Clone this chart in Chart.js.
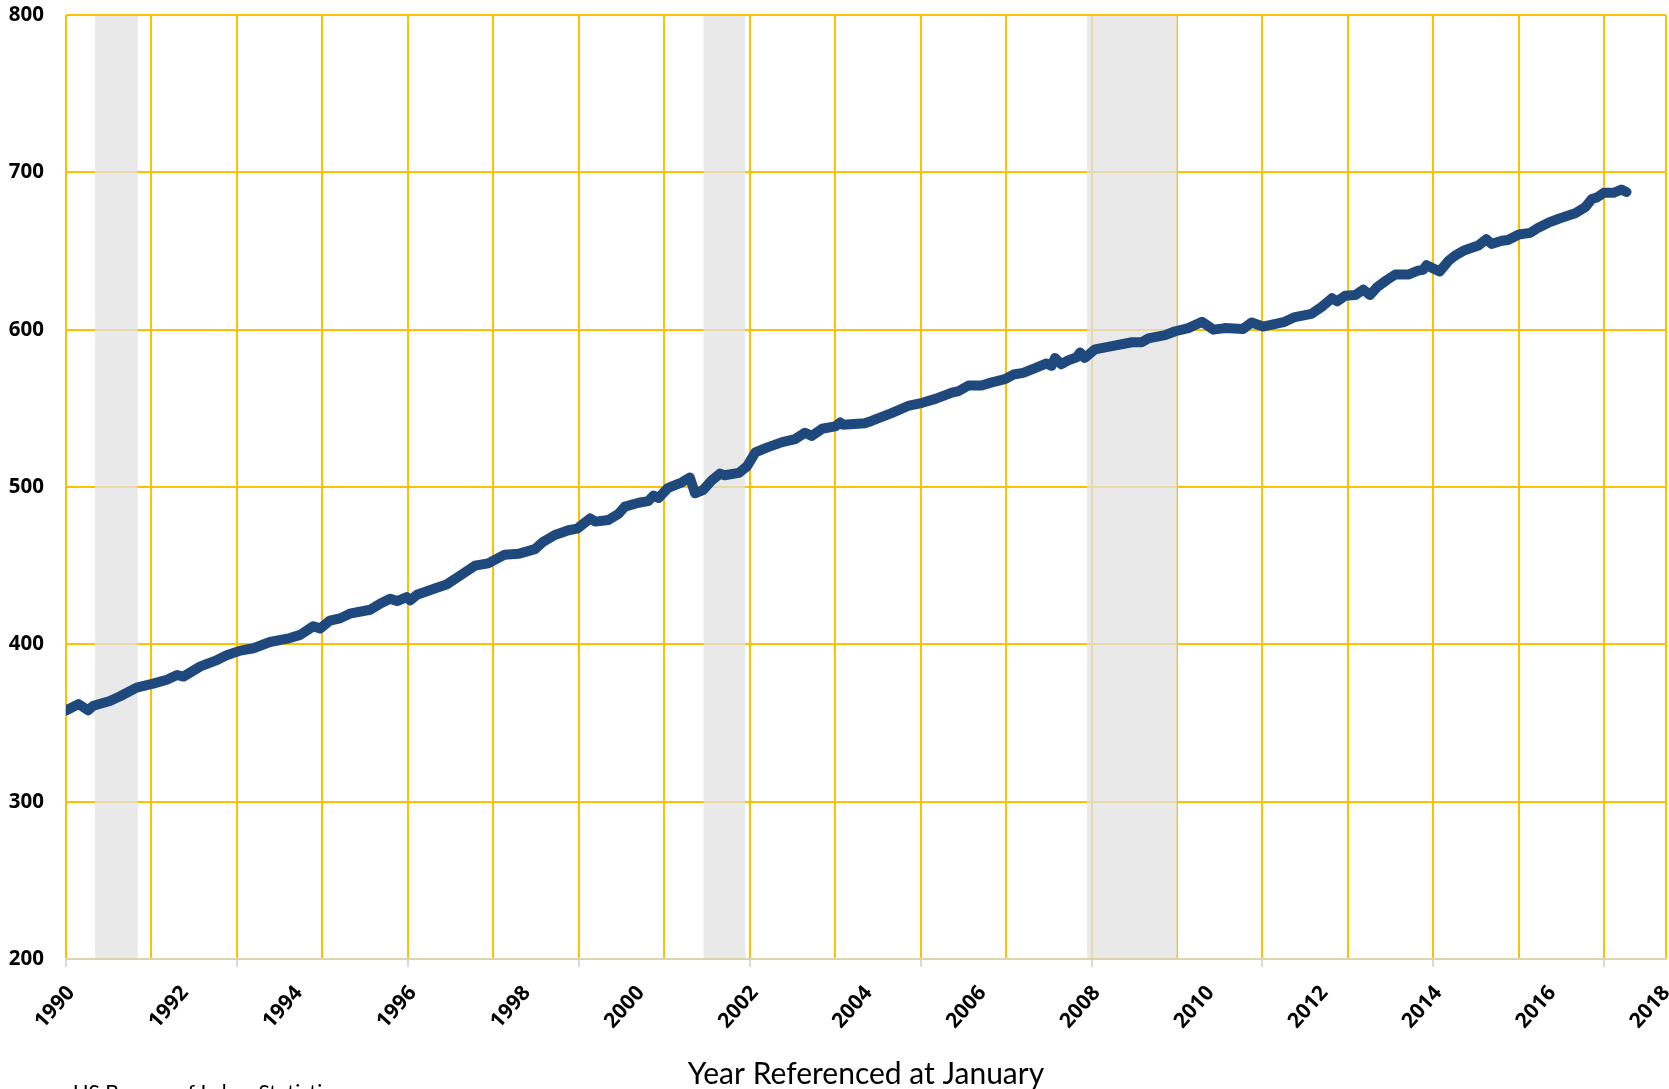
<!DOCTYPE html>
<html>
<head>
<meta charset="utf-8">
<script src="https://cdn.jsdelivr.net/npm/chart.js@4.4.1/dist/chart.umd.min.js"></script>
<style>
    html, body { margin: 0; padding: 0; background: #fff; overflow: hidden; }
    #wrap { width: 1669px; height: 1089px; position: relative; }
</style>
</head>
<body>
<div id="wrap"><canvas id="chart"></canvas></div>
<script>
// Values (x = decimal year)
const years = [
    1990.00, 1990.22, 1990.39, 1990.48, 1990.77, 1990.95, 1991.24, 1991.53, 1991.77, 1991.95,
    1992.06, 1992.36, 1992.65, 1992.82, 1993.06, 1993.29, 1993.58, 1993.93, 1994.11, 1994.34,
    1994.46, 1994.63, 1994.81, 1994.98, 1995.34, 1995.52, 1995.69, 1995.81, 1995.98, 1996.04,
    1996.16, 1996.51, 1996.68, 1996.89, 1997.18, 1997.41, 1997.70, 1997.94, 1998.23, 1998.37,
    1998.58, 1998.82, 1998.97, 1999.20, 1999.29, 1999.52, 1999.70, 1999.81, 2000.05, 2000.22,
    2000.31, 2000.40, 2000.57, 2000.81, 2000.95, 2001.04, 2001.18, 2001.33, 2001.48, 2001.56,
    2001.81, 2001.95, 2002.10, 2002.30, 2002.57, 2002.80, 2002.97, 2003.09, 2003.27, 2003.50,
    2003.59, 2003.64, 2004.02, 2004.14, 2004.49, 2004.78, 2005.03, 2005.26, 2005.55, 2005.67,
    2005.84, 2006.07, 2006.25, 2006.48, 2006.63, 2006.80, 2007.01, 2007.21, 2007.30, 2007.36,
    2007.47, 2007.59, 2007.74, 2007.80, 2007.88, 2008.06, 2008.36, 2008.71, 2008.88, 2009.00,
    2009.29, 2009.47, 2009.70, 2009.94, 2010.14, 2010.34, 2010.66, 2010.81, 2011.01, 2011.39,
    2011.57, 2011.86, 2012.04, 2012.22, 2012.31, 2012.45, 2012.63, 2012.77, 2012.89, 2013.01,
    2013.18, 2013.33, 2013.56, 2013.73, 2013.82, 2013.88, 2014.11, 2014.26, 2014.38, 2014.55,
    2014.79, 2014.93, 2015.02, 2015.20, 2015.31, 2015.50, 2015.70, 2015.85, 2016.02, 2016.20,
    2016.37, 2016.49, 2016.67, 2016.78, 2016.87, 2016.99, 2017.16, 2017.30, 2017.39
];
const values = [
    358, 362, 358, 361, 364, 367, 372.5, 375, 377.5, 380.5,
    379.5, 386, 390, 393, 396, 397.5, 401.5, 404, 406, 411.5,
    410, 415, 416.5, 419.5, 422, 426, 429, 427.5, 430, 428,
    431.5, 436, 438, 443, 450, 451.5, 457, 457.5, 460.5, 465,
    469.5, 472.5, 473.5, 480, 478, 479, 483, 487.5, 490, 491,
    494.5, 493, 499.5, 503, 506, 496, 498, 504, 508.5, 507.5,
    509, 513, 522, 525, 528.5, 530.5, 534.5, 532.5, 537, 538.5,
    541, 539.5, 540.5, 542, 547, 551.5, 553.5, 556, 560, 561,
    564.5, 564.5, 566.5, 568.5, 571.5, 572.5, 575.5, 578.5, 577, 582,
    578, 580.5, 582.5, 585.5, 582, 587.5, 589.5, 592, 592, 594.5,
    596.5, 599, 601, 605, 600, 601, 600.5, 604.5, 602, 605,
    608, 610, 614.5, 620, 618, 621.5, 622, 625.5, 622, 627,
    631.5, 635, 635, 637.5, 638, 641, 637, 643.5, 647, 650.5,
    653.5, 657.5, 654.5, 656.5, 657, 660.5, 661.5, 665, 668, 670.5,
    672.5, 674, 678, 683, 684, 687, 687, 689, 687.5
];

const tickYears = [1990, 1992, 1994, 1996, 1998, 2000, 2002, 2004, 2006, 2008, 2010, 2012, 2014, 2016, 2018];
const yTicks = [200, 300, 400, 500, 600, 700, 800];

// Shaded recession periods
const recessionStart = [1990.51, 2001.19, 2007.92];
const recessionEnd = [1991.26, 2001.92, 2009.50];

const X_MIN = 1990;
const X_MAX = 2018 + 1 / 12;
const GOLD = "#ffc000";

Chart.defaults.font.family = "Lato, 'Open Sans', sans-serif";
Chart.defaults.color = "#000";

// Grey bands drawn over the grid, under the line
const recessionBands = {
    id: "recessionBands",
    beforeDatasetsDraw(chart) {
        const { ctx, chartArea, scales } = chart;
        ctx.save();
        ctx.fillStyle = "rgba(225,225,225,0.75)";
        recessionStart.forEach((s, i) => {
            const x0 = scales.x.getPixelForValue(s);
            const x1 = scales.x.getPixelForValue(recessionEnd[i]);
            ctx.fillRect(x0, chartArea.top + 1, x1 - x0, chartArea.bottom - chartArea.top - 2);
        });
        ctx.restore();
    }
};

// Source line at the very bottom (cut off by the image edge)
const sourceNote = {
    id: "sourceNote",
    afterDraw(chart) {
        const ctx = chart.ctx;
        ctx.save();
        ctx.font = "21px Lato";
        ctx.fillStyle = "#000";
        ctx.textBaseline = "alphabetic";
        ctx.fillText("US Bureau of Labor Statistics", 73, 1100);
        ctx.restore();
    }
};

function zeroSidePadding(scale) {
    scale.paddingLeft = 0;
    scale.paddingRight = 0;
}

const ctx = document.getElementById("chart").getContext("2d");
new Chart(ctx, {
    type: "line",
    data: {
        datasets: [{
            data: years.map((t, i) => ({ x: t, y: values[i] })),
            borderColor: "#1f497d",
            borderWidth: 10,
            pointRadius: 0,
            borderCapStyle: "round",
            borderJoinStyle: "round",
            tension: 0,
            xAxisID: "x",
            yAxisID: "y"
        }]
    },
    options: {
        responsive: true,
        maintainAspectRatio: false,
        animation: false,
        devicePixelRatio: 1,
        layout: { padding: { top: 15, right: 3, left: 0, bottom: 0 } },
        plugins: {
            legend: { display: false },
            tooltip: { enabled: false }
        },
        scales: {
            x: {
                type: "linear",
                position: "bottom",
                weight: 2,
                min: X_MIN,
                max: X_MAX,
                afterBuildTicks: s => { s.ticks = tickYears.map(v => ({ value: v })); },
                ticks: {
                    autoSkip: false,
                    minRotation: 48,
                    maxRotation: 48,
                    padding: 6,
                    labelOffset: 5,
                    color: "#000",
                    font: { family: "'Open Sans', sans-serif", size: 21, weight: "bold" },
                    callback: v => String(v)
                },
                grid: { display: false },
                border: { display: false },
                title: {
                    display: true,
                    text: "Year Referenced at January",
                    color: "#000",
                    font: { size: 30 },
                    padding: { top: 0, bottom: -3 }
                },
                afterFit: s => { s.height = 122; zeroSidePadding(s); }
            },
            xTicks: {
                type: "linear",
                position: "bottom",
                weight: 1,
                min: X_MIN,
                max: X_MAX,
                afterBuildTicks: s => {
                    const t = [];
                    for (let v = 1990; v <= 2018; v += 3) t.push({ value: v });
                    s.ticks = t;
                },
                ticks: { display: false },
                grid: { drawOnChartArea: false, drawTicks: true, tickLength: 8, color: "#d9d9d9", lineWidth: 2 },
                border: { display: true, color: "rgba(215,215,215,0.8)", width: 2 },
                afterFit: s => { s.height = 8; zeroSidePadding(s); }
            },
            xGrid: {
                type: "linear",
                position: "top",
                min: X_MIN,
                max: X_MAX,
                afterBuildTicks: s => {
                    const t = [];
                    for (let v = 1990; v < 2018; v += 1.5) t.push({ value: v });
                    t.push({ value: X_MAX });
                    s.ticks = t;
                },
                ticks: { display: false },
                grid: { color: GOLD, lineWidth: 2, drawTicks: false },
                border: { display: false },
                afterFit: s => { s.height = 0; zeroSidePadding(s); }
            },
            y: {
                type: "linear",
                min: 200,
                max: 800,
                afterBuildTicks: s => { s.ticks = yTicks.map(v => ({ value: v })); },
                ticks: {
                    padding: 22,
                    color: "#000",
                    font: { family: "'Open Sans', sans-serif", size: 20.5, weight: "bold" }
                },
                grid: { color: GOLD, lineWidth: 2, drawTicks: false },
                border: { display: false },
                afterFit: s => {
                    s.width = 66;
                    s.paddingTop = 0;
                    s.paddingBottom = 0;
                }
            }
        }
    },
    plugins: [recessionBands, sourceNote]
});
</script>
</body>
</html>
